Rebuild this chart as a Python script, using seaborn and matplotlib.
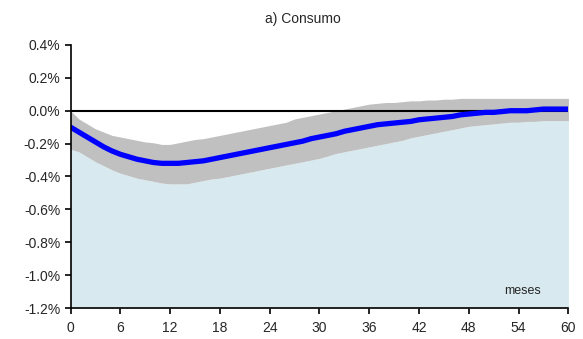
import numpy as np
import pandas as pd
import matplotlib.pyplot as plt
import seaborn as sns

# data (percent)
months = list(range(61))
resp = [-0.10, -0.13, -0.16, -0.19, -0.22, -0.245, -0.265, -0.28, -0.295, -0.305,
        -0.315, -0.32, -0.32, -0.32, -0.315, -0.31, -0.305, -0.295, -0.285, -0.275,
        -0.265, -0.255, -0.245, -0.235, -0.225, -0.215, -0.205, -0.195, -0.185, -0.17,
        -0.16, -0.15, -0.14, -0.125, -0.115, -0.105, -0.095, -0.085, -0.08, -0.075,
        -0.07, -0.065, -0.055, -0.05, -0.045, -0.04, -0.035, -0.025, -0.02, -0.015,
        -0.01, -0.01, -0.005, 0.0, 0.0, 0.0, 0.005, 0.01, 0.01, 0.01, 0.01]
upper = [0.0, -0.05, -0.08, -0.11, -0.13, -0.15, -0.16, -0.17, -0.18, -0.19,
         -0.195, -0.205, -0.205, -0.195, -0.185, -0.175, -0.17, -0.16, -0.15, -0.14,
         -0.13, -0.12, -0.11, -0.10, -0.09, -0.08, -0.07, -0.05, -0.04, -0.03,
         -0.02, -0.01, 0.0, 0.01, 0.02, 0.03, 0.04, 0.045, 0.05, 0.05,
         0.055, 0.06, 0.06, 0.065, 0.065, 0.07, 0.07, 0.075, 0.075, 0.075,
         0.075, 0.075, 0.075, 0.075, 0.075, 0.075, 0.075, 0.075, 0.075, 0.075, 0.075]
lower = [-0.235, -0.25, -0.28, -0.31, -0.335, -0.36, -0.38, -0.395, -0.41, -0.42,
         -0.43, -0.44, -0.445, -0.445, -0.445, -0.435, -0.425, -0.415, -0.41, -0.40,
         -0.39, -0.38, -0.37, -0.36, -0.35, -0.34, -0.33, -0.32, -0.31, -0.30,
         -0.29, -0.275, -0.26, -0.25, -0.24, -0.23, -0.22, -0.21, -0.20, -0.19,
         -0.18, -0.165, -0.155, -0.145, -0.135, -0.125, -0.115, -0.105, -0.095, -0.09,
         -0.085, -0.08, -0.075, -0.07, -0.07, -0.065, -0.065, -0.06, -0.06, -0.06, -0.06]
yticks = [-1.2, -1.0, -0.8, -0.6, -0.4, -0.2, 0.0, 0.2, 0.4]
ytick_labels = ['-1.2%', '-1.0%', '-0.8%', '-0.6%', '-0.4%', '-0.2%', '0.0%', '0.2%', '0.4%']

df = pd.DataFrame({'mes': months, 'resp': resp, 'upper': upper, 'lower': lower})

sns.set_style('ticks')
plt.rcParams['font.family'] = ['Liberation Sans', 'DejaVu Sans']

fig = plt.figure(figsize=(5.83, 3.39), dpi=100)
ax = fig.add_axes([0.121, 0.0914, 0.854, 0.776])

ax.fill_between(df['mes'], -1.2, df['lower'], color='#d8eaf0', lw=0)
ax.fill_between(df['mes'], df['lower'], df['upper'], color='#c0c0c0', lw=0)
ax.axhline(0, color='black', lw=1.5)
sns.lineplot(data=df, x='mes', y='resp', color='#0000ff', lw=3.8, ax=ax)

ax.set_xlim(0, 60)
ax.set_ylim(-1.2, 0.4)
ax.set_xticks(range(0, 61, 6))
ax.set_yticks(yticks)
ax.set_yticklabels(ytick_labels)
ax.tick_params(labelsize=10, length=4, width=1.2, color='black')
ax.tick_params(axis='x', pad=5)
ax.set_xlabel('')
ax.set_ylabel('')
for s in ['left', 'bottom']:
    ax.spines[s].set_color('black')
    ax.spines[s].set_linewidth(1.2)
for s in ['top', 'right']:
    ax.spines[s].set_visible(False)

ax.text(54.5, -1.095, 'meses', fontsize=9, ha='center', va='center')
fig.text(0.52, 0.945, 'a) Consumo', fontsize=10, ha='center', va='center')

fig.savefig('out.png', dpi=100)
